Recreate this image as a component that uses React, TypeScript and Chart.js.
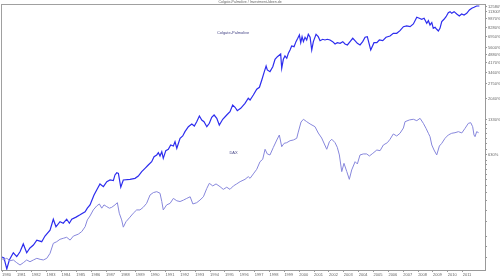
import React, { useEffect, useRef } from "react";
import { Chart, registerables } from "chart.js";

Chart.register(...registerables);

const TITLE = "Colgate-Palmolive / Investment-Ideen.de";
const SERIES_NAMES = ["Colgate-Palmolive", "DAX"];

const xTickYears = [
  1980, 1981, 1982, 1983, 1984, 1985, 1986, 1987, 1988, 1989, 1990, 1991, 1992, 1993, 1994, 1995,
  1996, 1997, 1998, 1999, 2000, 2001, 2002, 2003, 2004, 2005, 2006, 2007, 2008, 2009, 2010, 2011,
];

// performance in % (index 100 = start)
const yTickGains = [12580, 11300, 9870, 8280, 6950, 5600, 4880, 4170, 3460, 2750, 2040, 1330, 630];
const yMinorGains = [1200, 1100, 1000, 900, 800, 700, 550, 500, 450, 400, 350, 300, 250, 200, 150, 100, 50, 25, 0];

const colgateYears = [
  1980.0, 1980.13, 1980.32, 1980.49, 1980.76, 1980.99, 1981.21, 1981.43, 1981.66, 1981.88,
  1982.11, 1982.34, 1982.67, 1982.89, 1983.23, 1983.45, 1983.63, 1983.9, 1984.12, 1984.35,
  1984.53, 1984.69, 1984.98, 1985.25, 1985.59, 1985.74, 1985.92, 1986.19, 1986.37, 1986.59,
  1986.82, 1987.05, 1987.27, 1987.49, 1987.6, 1987.72, 1987.83, 1987.99, 1988.16, 1988.61,
  1988.95, 1989.17, 1989.4, 1989.62, 1989.84, 1990.07, 1990.23, 1990.41, 1990.52, 1990.63,
  1990.75, 1990.85, 1991.02, 1991.19, 1991.35, 1991.53, 1991.64, 1991.76, 1991.98, 1992.16,
  1992.31, 1992.54, 1992.77, 1992.94, 1993.1, 1993.28, 1993.44, 1993.59, 1993.78, 1993.95,
  1994.11, 1994.27, 1994.45, 1994.62, 1994.85, 1995.12, 1995.34, 1995.52, 1995.68, 1995.83,
  1996.06, 1996.35, 1996.57, 1996.69, 1996.91, 1997.14, 1997.32, 1997.48, 1997.63, 1997.77,
  1997.85, 1998.03, 1998.22, 1998.37, 1998.53, 1998.75, 1998.82, 1998.93, 1999.04, 1999.16,
  1999.27, 1999.38, 1999.49, 1999.65, 1999.78, 1999.9, 2000.01, 2000.1, 2000.19, 2000.28,
  2000.39, 2000.5, 2000.61, 2000.73, 2000.84, 2000.95, 2001.13, 2001.28, 2001.4, 2001.58,
  2001.73, 2001.89, 2002.07, 2002.25, 2002.41, 2002.56, 2002.75, 2002.93, 2003.08, 2003.24,
  2003.42, 2003.6, 2003.75, 2003.91, 2004.09, 2004.27, 2004.43, 2004.58, 2004.81, 2005.03,
  2005.22, 2005.39, 2005.62, 2005.84, 2006.11, 2006.33, 2006.56, 2006.78, 2007.01, 2007.23,
  2007.46, 2007.68, 2007.91, 2008.08, 2008.24, 2008.4, 2008.58, 2008.69, 2008.8, 2008.92,
  2009.02, 2009.14, 2009.25, 2009.36, 2009.47, 2009.59, 2009.74, 2009.88, 2010.03, 2010.15,
  2010.26, 2010.42, 2010.6, 2010.77, 2010.93, 2011.09, 2011.27, 2011.45, 2011.61, 2011.76,
  2011.94, 2012.12,
];
const colgateIndex = [
  101.9, 100, 80.9, 96.2, 110.5, 102.6, 112.5, 131, 110.5, 121.1,
  128.2, 141, 136.8, 152.4, 170.9, 210.8, 182.3, 200.9, 195.2, 210.8,
  195.2, 210.8, 219.4, 229.3, 243.6, 260.7, 277.8, 336.2, 370.4, 416,
  394.6, 434.5, 448.7, 443, 494.3, 515.7, 510, 390.3, 448.7, 454.4,
  463, 484.3, 527.1, 561.3, 598.3, 638.2, 702.3, 726.5, 759.3, 712.3,
  773.5, 680.9, 789.2, 810.5, 880.3, 863.2, 938.7, 826.2, 1001, 1047,
  1138, 1252, 1319, 1269, 1379, 1538, 1425, 1379, 1252, 1336,
  1500, 1568, 1471, 1293, 1444, 1568, 1672, 1902, 1819, 1704,
  1785, 1964, 2164, 2094, 2305, 2573, 2674, 3077, 3541, 4028,
  3731, 3613, 3974, 4584, 4819, 5077, 3855, 4584, 4885, 4674,
  5157, 5483, 5922, 5842, 6437, 6868, 7319, 6311, 7083, 6437,
  7003, 6647, 7419, 7003, 5483, 6437, 7419, 7083, 6557, 6738,
  6647, 6738, 6647, 6437, 6154, 6311, 6236, 6437, 6154, 6037,
  6437, 6868, 6557, 6236, 6037, 6437, 7003, 7083, 5483, 6311,
  6311, 6647, 6557, 7003, 7179, 7560, 7560, 7950, 8587, 8704,
  8587, 9046, 10292, 10094, 9902, 10094, 9167, 9638, 8873, 9275,
  8326, 8490, 8168, 7905, 8326, 9460, 9902, 10410, 11245, 11469,
  11111, 11469, 10966, 10551, 10966, 10756, 11111, 11843, 12238, 12471,
  12792, 12792,
];

const daxYears = [
  1980.0, 1980.09, 1980.32, 1980.54, 1980.76, 1980.99, 1981.21, 1981.43, 1981.66, 1981.88,
  1982.11, 1982.34, 1982.56, 1982.78, 1983.01, 1983.23, 1983.45, 1983.68, 1983.9, 1984.12,
  1984.35, 1984.58, 1984.8, 1985.13, 1985.36, 1985.59, 1985.74, 1985.92, 1986.14, 1986.37,
  1986.55, 1986.71, 1986.86, 1987.05, 1987.22, 1987.38, 1987.6, 1987.76, 1987.89, 1988.05,
  1988.16, 1988.34, 1988.61, 1988.83, 1989.06, 1989.28, 1989.5, 1989.73, 1989.96, 1990.18,
  1990.41, 1990.63, 1990.75, 1990.85, 1991.08, 1991.31, 1991.53, 1991.76, 1991.98, 1992.21,
  1992.43, 1992.66, 1992.84, 1993.1, 1993.32, 1993.55, 1993.78, 1993.95, 1994.18, 1994.4,
  1994.67, 1994.89, 1995.12, 1995.34, 1995.57, 1995.79, 1996.02, 1996.35, 1996.57, 1996.69,
  1996.91, 1997.14, 1997.36, 1997.54, 1997.7, 1997.85, 1998.03, 1998.26, 1998.49, 1998.66,
  1998.82, 1998.98, 1999.16, 1999.38, 1999.6, 1999.83, 1999.92, 2000.12, 2000.28, 2000.5,
  2000.73, 2001.06, 2001.28, 2001.51, 2001.85, 2002.03, 2002.19, 2002.41, 2002.56, 2002.7,
  2002.86, 2003.01, 2003.2, 2003.37, 2003.53, 2003.76, 2003.91, 2004.09, 2004.31, 2004.54,
  2004.72, 2004.95, 2005.22, 2005.44, 2005.66, 2005.93, 2006.11, 2006.33, 2006.56, 2006.78,
  2007.01, 2007.12, 2007.41, 2007.68, 2007.91, 2008.13, 2008.35, 2008.53, 2008.69, 2008.8,
  2008.92, 2009.07, 2009.25, 2009.43, 2009.59, 2009.81, 2010.03, 2010.26, 2010.48, 2010.71,
  2010.94, 2011.16, 2011.38, 2011.54, 2011.67, 2011.76, 2011.83, 2011.94, 2012.07,
];
const daxIndex = [
  99.3, 96.2, 99.3, 94.9, 96.2, 91.2, 87.3, 91.2, 96.2, 93,
  96.2, 99.3, 97.4, 96.2, 99.3, 109.3, 132.5, 136.8, 143.2, 146,
  148.9, 141, 152.4, 158.1, 166, 182.3, 208, 224.4, 252.1, 272.1,
  282.8, 260.7, 277.8, 268.5, 260.7, 265, 277.8, 289.9, 236.5, 208,
  180.9, 200.9, 219.4, 236.5, 252.1, 252.1, 265, 286.3, 336.2, 351.9,
  358.3, 347.6, 296.3, 252.1, 277.8, 286.3, 314.8, 300.6, 296.3, 304.8,
  314.8, 324.8, 282.8, 289.9, 304.8, 324.8, 381.8, 420.9, 400.3, 416,
  394.6, 374.6, 390.3, 374.6, 400.3, 416, 434.5, 454.4, 478.6, 463,
  504.3, 551.3, 638.2, 668.1, 810.5, 740.7, 726.5, 841.9, 968.7, 1067,
  851.9, 908.8, 920.2, 955.8, 968.7, 1001, 1110, 1370, 1444, 1379,
  1319, 1252, 1108, 1007, 810.5, 938.7, 982.9, 920.2, 841.9, 726.5,
  527.1, 618.2, 527.1, 454.4, 544.2, 638.2, 611.1, 726.5, 740.7, 740.7,
  712.3, 749.3, 799.1, 789.2, 880.3, 920.2, 982.9, 1088, 1047, 1103,
  1221, 1379, 1425, 1444, 1406, 1471, 1336, 1214, 1103, 1033,
  880.3, 799.1, 726.5, 863.2, 908.8, 1001, 1067, 1103, 1115, 1138,
  1110, 1214, 1336, 1352, 1252, 1067, 1033, 1138, 1115,
];

const FONT = '"Liberation Sans", Arial, sans-serif';

function pairs(xs: number[], ys: number[]) {
  const n = Math.min(xs.length, ys.length);
  const out: { x: number; y: number }[] = [];
  for (let i = 0; i < n; i++) out.push({ x: xs[i], y: ys[i] });
  return out;
}

export default function App() {
  const ref = useRef<HTMLCanvasElement>(null);

  useEffect(() => {
    const canvas = ref.current;
    if (!canvas) return;
    const majorIdx = yTickGains.map((g) => g + 100);
    const minorIdx = yMinorGains.map((g) => g + 100);

    const decor = {
      id: "decor",
      afterDraw(chart: any) {
        const { ctx, chartArea: a, scales } = chart;
        ctx.save();
        ctx.strokeStyle = "#a0a0a0";
        ctx.lineWidth = 1;
        ctx.beginPath();
        ctx.moveTo(a.left, a.top + 0.5);
        ctx.lineTo(a.right, a.top + 0.5);
        ctx.moveTo(a.left + 0.5, a.top);
        ctx.lineTo(a.left + 0.5, a.bottom);
        ctx.stroke();
        ctx.textAlign = "center";
        ctx.textBaseline = "middle";
        ctx.fillStyle = "#666";
        ctx.font = `3.5px ${FONT}`;
        ctx.fillText(TITLE, 250, 2);
        ctx.font = `4px ${FONT}`;
        ctx.fillStyle = "#4a4a8a";
        ctx.fillText(SERIES_NAMES[0], scales.x.getPixelForValue(1995.55), scales.y.getPixelForValue(7610));
        ctx.fillText(SERIES_NAMES[1], scales.x.getPixelForValue(1995.58), scales.y.getPixelForValue(759));
        ctx.restore();
      },
    };

    const chart = new Chart(canvas, {
      type: "line",
      data: {
        datasets: [
          {
            label: SERIES_NAMES[1],
            data: pairs(daxYears, daxIndex),
            borderColor: "rgb(135,135,220)",
            borderWidth: 1,
            pointRadius: 0,
            tension: 0,
          },
          {
            label: SERIES_NAMES[0],
            data: pairs(colgateYears, colgateIndex),
            borderColor: "rgb(45,45,238)",
            borderWidth: 1.2,
            pointRadius: 0,
            tension: 0,
          },
        ],
      },
      options: {
        animation: false,
        responsive: false,
        events: [],
        layout: { padding: { top: 4, left: 1, right: 0, bottom: 0 } },
        plugins: {
          legend: { display: false },
          tooltip: { enabled: false },
          title: { display: false },
        },
        scales: {
          x: {
            type: "linear",
            position: "bottom",
            min: 1979.93,
            max: 2012.5,
            afterBuildTicks: (s: any) => {
              s.ticks = xTickYears.map((v) => ({ value: v }));
            },
            afterFit: (s: any) => {
              s.height = 7;
            },
            grid: { display: true, drawOnChartArea: false, drawTicks: true, tickLength: 2, color: "#999" },
            border: { display: true, color: "#999" },
            ticks: {
              autoSkip: false,
              maxRotation: 0,
              minRotation: 0,
              align: "start",
              padding: 1,
              color: "#666",
              font: { size: 4, family: FONT, lineHeight: 1 },
              callback: (v: any) => String(v),
            },
          },
          y: {
            type: "logarithmic",
            position: "right",
            min: 79.3,
            max: 13290,
            afterBuildTicks: (s: any) => {
              s.ticks = [...majorIdx, ...minorIdx].sort((p, q) => p - q).map((v) => ({ value: v }));
            },
            afterFit: (s: any) => {
              s.width = 15;
            },
            grid: { display: true, drawOnChartArea: false, drawTicks: true, tickLength: 2, color: "#999" },
            border: { display: true, color: "#999" },
            ticks: {
              autoSkip: false,
              padding: 1,
              color: "#666",
              font: { size: 4, family: FONT, lineHeight: 1 },
              callback: (v: any) => (majorIdx.includes(v) ? `${Math.round(v - 100)}%` : ""),
            },
          },
        },
      } as any,
      plugins: [decor],
    });
    return () => chart.destroy();
  }, []);

  return (
    <div style={{ position: "absolute", left: 0, top: 0, width: 500, height: 277, background: "#fff" }}>
      <canvas ref={ref} width={500} height={277} />
    </div>
  );
}
